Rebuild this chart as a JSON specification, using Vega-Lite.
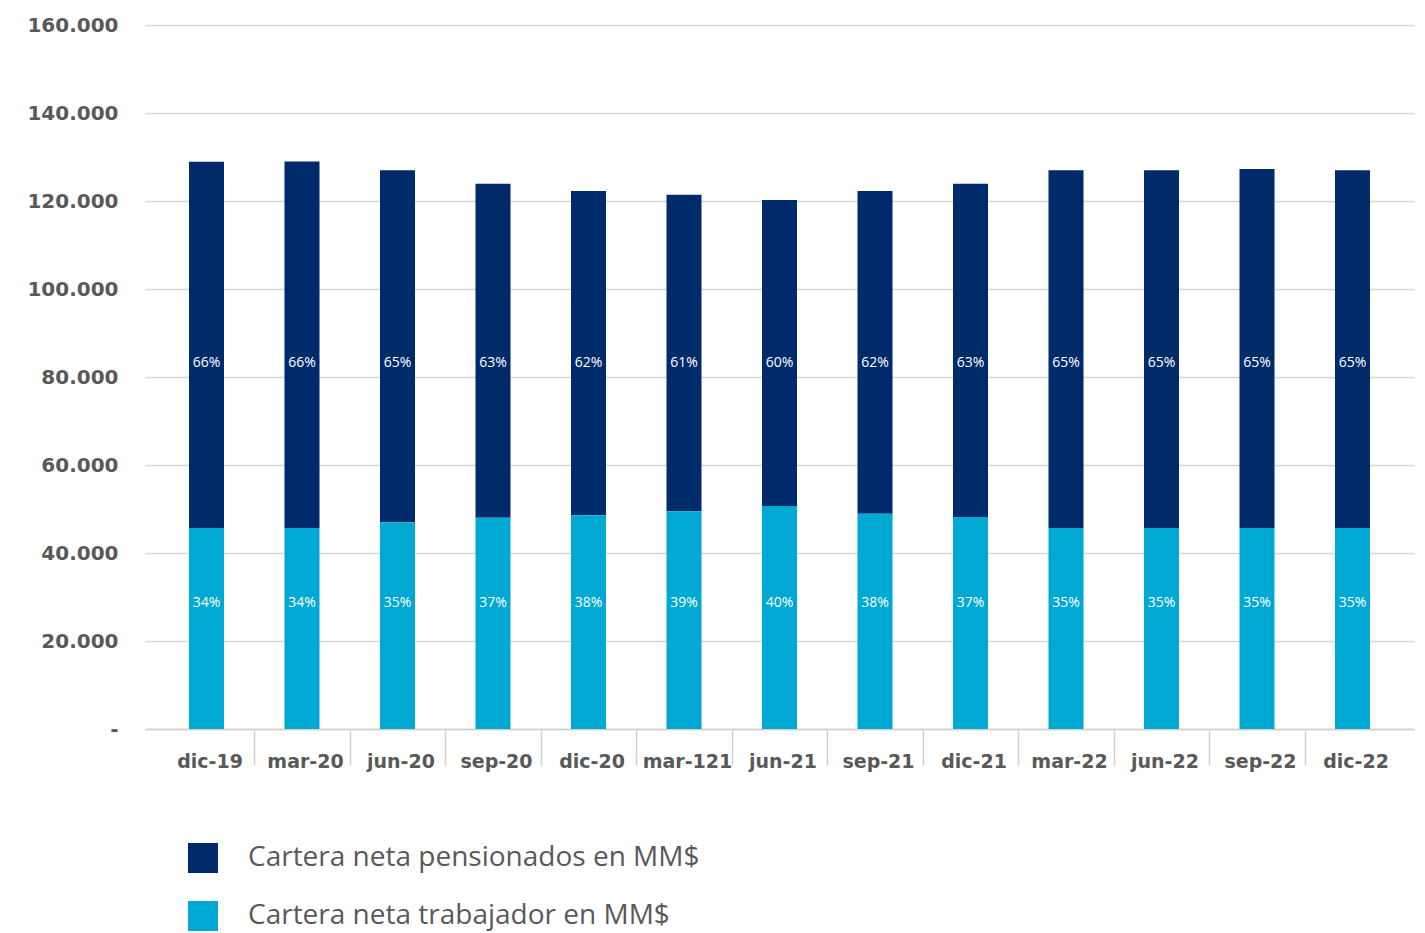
{
  "$schema": "https://vega.github.io/schema/vega-lite/v6.json",
  "autosize": {"type": "none"},
  "padding": {"left": 145, "top": 25, "right": 11, "bottom": 204},
  "width": 1269,
  "height": 704,
  "background": "white",
  "config": {"view": {"stroke": null}, "font": "Open Sans"},
  "data": {"values": [
    {"fecha": "dic-19", "serie": "Cartera neta pensionados en MM$", "valor": 83200, "pct": "66%"},
    {"fecha": "dic-19", "serie": "Cartera neta trabajador en MM$", "valor": 45700, "pct": "34%"},
    {"fecha": "mar-20", "serie": "Cartera neta pensionados en MM$", "valor": 83300, "pct": "66%"},
    {"fecha": "mar-20", "serie": "Cartera neta trabajador en MM$", "valor": 45700, "pct": "34%"},
    {"fecha": "jun-20", "serie": "Cartera neta pensionados en MM$", "valor": 80000, "pct": "65%"},
    {"fecha": "jun-20", "serie": "Cartera neta trabajador en MM$", "valor": 47000, "pct": "35%"},
    {"fecha": "sep-20", "serie": "Cartera neta pensionados en MM$", "valor": 75900, "pct": "63%"},
    {"fecha": "sep-20", "serie": "Cartera neta trabajador en MM$", "valor": 48000, "pct": "37%"},
    {"fecha": "dic-20", "serie": "Cartera neta pensionados en MM$", "valor": 73700, "pct": "62%"},
    {"fecha": "dic-20", "serie": "Cartera neta trabajador en MM$", "valor": 48600, "pct": "38%"},
    {"fecha": "mar-121", "serie": "Cartera neta pensionados en MM$", "valor": 71900, "pct": "61%"},
    {"fecha": "mar-121", "serie": "Cartera neta trabajador en MM$", "valor": 49500, "pct": "39%"},
    {"fecha": "jun-21", "serie": "Cartera neta pensionados en MM$", "valor": 69500, "pct": "60%"},
    {"fecha": "jun-21", "serie": "Cartera neta trabajador en MM$", "valor": 50700, "pct": "40%"},
    {"fecha": "sep-21", "serie": "Cartera neta pensionados en MM$", "valor": 73400, "pct": "62%"},
    {"fecha": "sep-21", "serie": "Cartera neta trabajador en MM$", "valor": 48900, "pct": "38%"},
    {"fecha": "dic-21", "serie": "Cartera neta pensionados en MM$", "valor": 75700, "pct": "63%"},
    {"fecha": "dic-21", "serie": "Cartera neta trabajador en MM$", "valor": 48200, "pct": "37%"},
    {"fecha": "mar-22", "serie": "Cartera neta pensionados en MM$", "valor": 81300, "pct": "65%"},
    {"fecha": "mar-22", "serie": "Cartera neta trabajador en MM$", "valor": 45700, "pct": "35%"},
    {"fecha": "jun-22", "serie": "Cartera neta pensionados en MM$", "valor": 81300, "pct": "65%"},
    {"fecha": "jun-22", "serie": "Cartera neta trabajador en MM$", "valor": 45700, "pct": "35%"},
    {"fecha": "sep-22", "serie": "Cartera neta pensionados en MM$", "valor": 81600, "pct": "65%"},
    {"fecha": "sep-22", "serie": "Cartera neta trabajador en MM$", "valor": 45700, "pct": "35%"},
    {"fecha": "dic-22", "serie": "Cartera neta pensionados en MM$", "valor": 81300, "pct": "65%"},
    {"fecha": "dic-22", "serie": "Cartera neta trabajador en MM$", "valor": 45700, "pct": "35%"}
  ]},
  "encoding": {
    "x": {
      "field": "fecha", "type": "nominal", "sort": null,
      "scale": {"paddingInner": 0, "paddingOuter": 0.144},
      "axis": {
        "title": null, "labelAngle": 0, "labelFont": "DejaVu Sans", "labelFontWeight": "bold",
        "labelFontSize": 19, "labelColor": "#595959", "labelPadding": -13,
        "tickBand": "extent", "tickSize": 36, "tickColor": "#d0d0d0", "tickWidth": 1.5,
        "tickOpacity": {"condition": {"test": "datum.value === 'dic-22' || datum.extra", "value": 0}, "value": 1},
        "domainColor": "#d0d0d0", "domainWidth": 1.5, "grid": false, "labelOffset": 3
      }
    }
  },
  "layer": [
    {
      "mark": {"type": "bar", "size": 35},
      "encoding": {
        "y": {
          "field": "valor", "type": "quantitative", "stack": "zero",
          "scale": {"domain": [0, 160000]},
          "axis": {
            "title": null, "values": [0, 20000, 40000, 60000, 80000, 100000, 120000, 140000, 160000],
            "labelExpr": "datum.value == 0 ? '-' : (datum.value / 1000) + '.000'",
            "labelFont": "DejaVu Sans", "labelFontWeight": "bold", "labelFontSize": 20, "labelColor": "#595959",
            "labelPadding": 27, "ticks": false, "domain": false, "labelOverlap": false,
            "gridColor": "#d6d6d6", "gridWidth": 1.5
          }
        },
        "color": {
          "field": "serie", "type": "nominal",
          "scale": {"domain": ["Cartera neta pensionados en MM$", "Cartera neta trabajador en MM$"], "range": ["#002B6A", "#00A9D4"]},
          "legend": {
            "title": null, "orient": "none", "legendX": 43, "legendY": 818, "direction": "vertical",
            "symbolType": "square", "symbolSize": 900, "symbolStrokeWidth": 0, "symbolOpacity": 1,
            "labelFont": "Open Sans", "labelFontSize": 28, "labelColor": "#595959", "labelFontWeight": 400,
            "labelOffset": 30, "rowPadding": 28, "labelLimit": 800
          }
        },
        "order": {"field": "serie", "sort": "descending"}
      }
    },
    {
      "transform": [{"filter": "datum.serie == 'Cartera neta pensionados en MM$'"}],
      "mark": {"type": "text", "color": "white", "fontSize": 14, "font": "Open Sans", "baseline": "middle"},
      "encoding": {"y": {"datum": 83200, "type": "quantitative"}, "text": {"field": "pct"}}
    },
    {
      "transform": [{"filter": "datum.serie == 'Cartera neta trabajador en MM$'"}],
      "mark": {"type": "text", "color": "white", "fontSize": 14, "font": "Open Sans", "baseline": "middle"},
      "encoding": {"y": {"datum": 28600, "type": "quantitative"}, "text": {"field": "pct"}}
    }
  ]
}
